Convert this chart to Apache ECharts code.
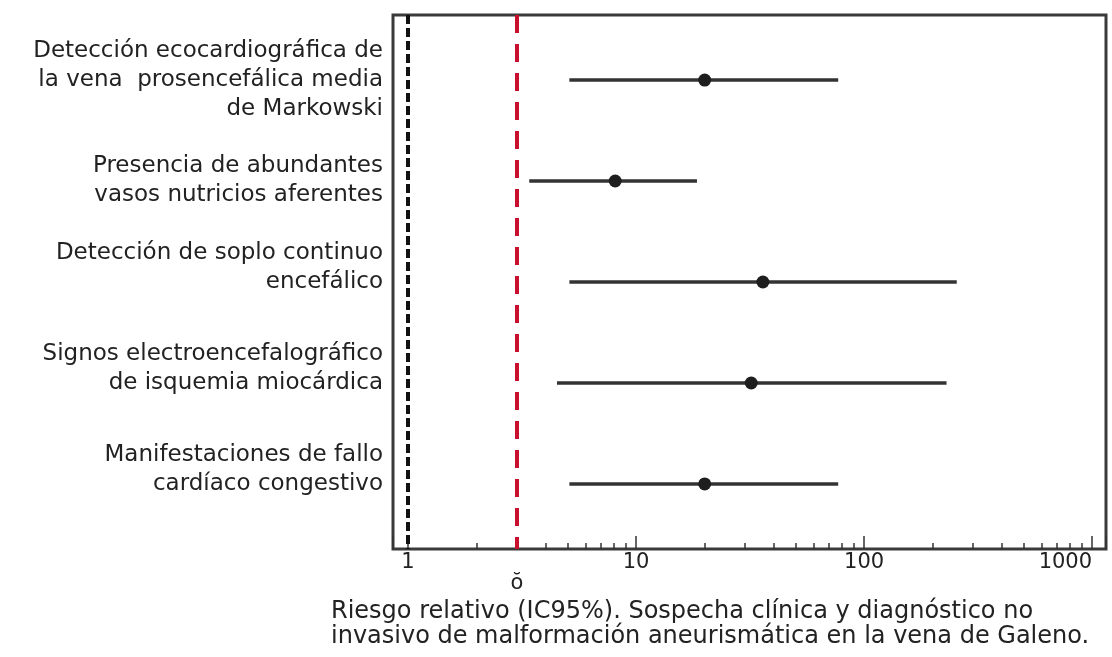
<!DOCTYPE html>
<html>
<head>
<meta charset="utf-8">
<script src="https://cdn.jsdelivr.net/npm/echarts@6/dist/echarts.min.js"></script>
<style>
html, body { margin: 0; padding: 0; background: #fff; }
#chart { width: 1112px; height: 657px; }
</style>
</head>
<body>
<div id="chart"></div>
<script>
// filas del forest plot (de arriba abajo)
var categories = [
    'Detección ecocardiográfica de\nla vena  prosencefálica media\nde Markowski',
    'Presencia de abundantes\nvasos nutricios aferentes',
    'Detección de soplo continuo\nencefálico',
    'Signos electroencefalográfico\nde isquemia miocárdica',
    'Manifestaciones de fallo\ncardíaco congestivo'
];
var rr     = [20, 8.1, 36, 32, 20];
var ciLow  = [5.1, 3.4, 5.1, 4.5, 5.1];
var ciHigh = [77, 18.5, 255, 230, 77];

var majorTicks = [1, 10, 100, 1000];
var minorTicks = [];
[1, 10, 100].forEach(function (d) {
    for (var k = 2; k <= 9; k++) minorTicks.push(k * d);
});
var nullLine = 1;
var cutLine = 3;
var xTitle = 'Riesgo relativo (IC95%). Sospecha clínica y diagnóstico no\ninvasivo de malformación aneurismática en la vena de Galeno.';

var FONT = 'DejaVu Sans';
var xMin = 0.859, xMax = 1151;

var ciData = [], pointData = [];
for (var i = 0; i < categories.length; i++) {
    ciData.push([ciLow[i], ciHigh[i], i]);
    pointData.push([rr[i], i]);
}

var chart = echarts.init(document.getElementById('chart'));
var option = {
    animation: false,
    title: {
        text: xTitle,
        left: 331,
        top: 599,
        padding: 0,
        textStyle: { fontFamily: FONT, fontSize: 24, fontWeight: 'normal', color: '#222', lineHeight: 25 }
    },
    grid: {
        left: 393, right: 6, top: 15, bottom: 108,
        outerBoundsMode: 'none', containLabel: false,
        show: true, borderColor: '#3a3a3a', borderWidth: 3
    },
    xAxis: [{
        // etiquetas + marcas menores
        type: 'log', logBase: 10, min: xMin, max: xMax, position: 'bottom',
        axisLine: { show: false, onZero: false },
        splitLine: { show: false },
        axisTick: { show: true, inside: true, length: 6, customValues: minorTicks,
            lineStyle: { color: '#333', width: 1.5 } },
        axisLabel: {
            customValues: [cutLine].concat(majorTicks),
            margin: 3, fontFamily: FONT, fontSize: 21, color: '#222', lineHeight: 21,
            alignMaxLabel: 'right',
            formatter: function (v) {
                if (Math.abs(v - cutLine) < 0.01) return '\nŏ';
                return String(Math.round(v));
            }
        }
    }, {
        // marcas mayores (potencias de 10)
        type: 'log', logBase: 10, min: xMin, max: xMax, position: 'bottom',
        axisLine: { show: false, onZero: false },
        splitLine: { show: false },
        axisLabel: { show: false },
        axisTick: { show: true, inside: true, length: 13,
            lineStyle: { color: '#333', width: 1.5 } }
    }],
    yAxis: {
        type: 'value', min: -0.644, max: 4.644, inverse: true,
        axisLine: { show: false, onZero: false },
        axisTick: { show: false },
        splitLine: { show: false },
        axisLabel: {
            customValues: [0, 1, 2, 3, 4],
            margin: 10, fontFamily: FONT, fontSize: 23, color: '#222', lineHeight: 29,
            formatter: function (v) {
                var k = Math.round(v);
                // las últimas etiquetas van algo más arriba que su fila
                return k < 2 ? categories[k] : categories[k] + '\n';
            }
        }
    },
    series: [{
        type: 'custom',
        xAxisIndex: 0,
        encode: { x: [0, 1], y: 2 },
        data: ciData,
        renderItem: function (params, api) {
            var a = api.coord([api.value(0), api.value(2)]);
            var b = api.coord([api.value(1), api.value(2)]);
            return {
                type: 'line',
                shape: { x1: a[0], y1: a[1], x2: b[0], y2: b[1] },
                style: { stroke: '#333', lineWidth: 3.5 }
            };
        },
        z: 3
    }, {
        type: 'scatter',
        xAxisIndex: 0,
        data: pointData,
        symbol: 'circle',
        symbolSize: 13,
        itemStyle: { color: '#1e1e1e', opacity: 1 },
        z: 4,
        markLine: {
            silent: true,
            symbol: 'none',
            label: { show: false },
            data: [
                { xAxis: nullLine, lineStyle: { color: '#111', width: 4, type: [9, 4] } },
                { xAxis: cutLine, lineStyle: { color: '#c8102e', width: 4, type: [18, 11] } }
            ]
        }
    }]
};
chart.setOption(option);
</script>
</body>
</html>
